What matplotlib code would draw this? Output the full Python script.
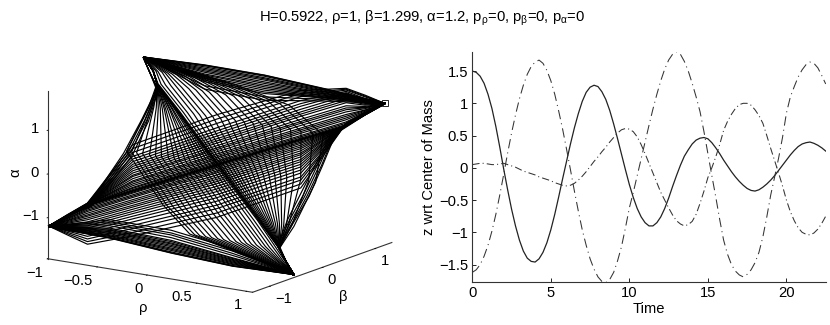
import numpy as np
import matplotlib
matplotlib.use('Agg')
import matplotlib.pyplot as plt

plt.rcParams['font.family'] = ['Liberation Sans', 'DejaVu Sans']
plt.rcParams['mathtext.fontset'] = 'custom'
plt.rcParams['mathtext.rm'] = 'Liberation Sans'
plt.rcParams['mathtext.it'] = 'Liberation Sans'
plt.rcParams['mathtext.default'] = 'regular'

# right panel: z of the three bodies, read every 0.25 time units
z_solid = [1.5, 1.48, 1.42, 1.31, 1.14, .92, .64, .32, -.02, -.34, -.64, -.9, -1.12, -1.29, -1.4, -1.45,
           -1.46, -1.41, -1.31, -1.16, -.96, -.72, -.45, -.17, .1, .37, .62, .84, 1.03, 1.17, 1.25, 1.28,
           1.26, 1.18, 1.06, .89, .68, .45, .21, -.03, -.26, -.46, -.63, -.76, -.85, -.9, -.9, -.85,
           -.76, -.63, -.47, -.29, -.12, .04, .18, .28, .37, .43, .46, .47, .45, .39, .31, .22,
           .12, .03, -.06, -.14, -.21, -.27, -.32, -.35, -.36, -.34, -.3, -.25, -.19, -.12, -.04, .04,
           .12, .2, .27, .33, .37, .39, .4, .38, .35, .31, .26]
z_big = [-1.62, -1.58, -1.5, -1.37, -1.2, -.98, -.72, -.42, -.1, .23, .54, .82, 1.07, 1.28, 1.45, 1.57,
         1.64, 1.67, 1.62, 1.51, 1.35, 1.14, .88, .6, .29, -.03, -.36, -.67, -.96, -1.2, -1.41, -1.57,
         -1.69, -1.76, -1.78, -1.73, -1.62, -1.44, -1.22, -.93, -.62, -.38, -.12, .14, .4, .66, .91, 1.14,
         1.35, 1.53, 1.67, 1.76, 1.8, 1.76, 1.65, 1.5, 1.31, 1.1, .87, .56, .22, -.12, -.45, -.8,
         -1.12, -1.34, -1.5, -1.6, -1.66, -1.69, -1.65, -1.58, -1.47, -1.31, -1.07, -.76, -.42, -.14, .15, .47,
         .85, 1.1, 1.26, 1.41, 1.52, 1.6, 1.64, 1.62, 1.55, 1.43, 1.3]
z_small = [.05, .06, .07, .07, .06, .05, .05, .06, .07, .05, .03, .01, -.02, -.05, -.07, -.09,
           -.11, -.14, -.16, -.18, -.2, -.23, -.25, -.27, -.28, -.27, -.24, -.19, -.13, -.06, .02, .1,
           .17, .25, .32, .4, .47, .54, .59, .61, .6, .56, .48, .36, .22, .07, -.08, -.23,
           -.38, -.5, -.62, -.73, -.82, -.87, -.9, -.88, -.83, -.72, -.55, -.36, -.15, 0, .17, .36,
           .58, .72, .83, .92, .98, 1.0, 1.0, .97, .9, .81, .69, .5, .3, .11, -.08, -.28,
           -.5, -.68, -.82, -.93, -1.0, -1.03, -1.04, -1.01, -.95, -.86, -.75]
time = np.arange(len(z_solid)) * 0.25

# left panel: strands of the trajectory, read as waypoints per family
# lower left corner to right corner, rho and beta shared, alpha per strand
c_rho = [-1, -.89, -.77, -.5, 0, .5, .77, .88, 1]
c_beta = [-1.3, -1.15, -1.0, -.65, 0, .65, 1.0, 1.15, 1.3]
c_alpha = [
    [-1.2, -1.0, -.77, -.49, .01, .5, .76, 1.0, 1.23],
    [-1.2, -1.0, -.77, -.48, .02, .51, .77, 1.0, 1.23],
    [-1.2, -1.0, -.78, -.50, 0, .49, .76, 1.0, 1.23],
    [-1.2, -1.0, -.77, -.46, .04, .53, .79, 1.01, 1.23],
    [-1.2, -1.0, -.77, -.43, .07, .56, .82, 1.03, 1.23],
    [-1.2, -1.0, -.77, -.41, .10, .59, .85, 1.04, 1.23],
    [-1.2, -1.0, -.77, -.37, .14, .64, .90, 1.05, 1.23],
    [-1.2, -1.0, -.76, -.33, .18, .68, .94, 1.07, 1.23],
    [-1.2, -1.0, -.76, -.29, .22, .72, .98, 1.09, 1.23],
    [-1.2, -1.0, -.76, -.26, .26, .76, 1.02, 1.1, 1.23],
    [-1.2, -1.0, -.76, -.21, .31, .82, 1.08, 1.13, 1.23],
    [-1.2, -.99, -.76, -.16, .36, .87, 1.13, 1.15, 1.23],
    [-1.2, -.99, -.75, -.13, .40, .91, 1.17, 1.16, 1.23],
    [-1.2, -.99, -.75, -.08, .45, .96, 1.22, 1.18, 1.23],
    [-1.2, -.99, -.75, -.03, .51, 1.03, 1.29, 1.21, 1.23],
    [-1.2, -.99, -.75, .02, .56, 1.08, 1.34, 1.23, 1.23],
    [-1.2, -.99, -.75, .07, .61, 1.13, 1.39, 1.25, 1.23],
    [-1.2, -.98, -.74, .12, .67, 1.19, 1.45, 1.28, 1.23],
    [-1.2, -.98, -.74, .18, .73, 1.26, 1.5, 1.3, 1.23],
    [-1.2, -.98, -.74, .24, .79, 1.32, 1.52, 1.33, 1.23],
    [-1.2, -.98, -.73, .30, .86, 1.39, 1.55, 1.36, 1.23],
    [-1.2, -.97, -.73, .39, .96, 1.48, 1.58, 1.4, 1.23],
    [-1.2, -.97, -.72, .48, 1.06, 1.55, 1.6, 1.42, 1.23],
    [-1.2, -.96, -.72, .57, 1.16, 1.62, 1.62, 1.44, 1.23],
    [-1.2, -1.01, -.79, -.52, -.02, .47, .76, 1.0, 1.23],
    [-1.2, -1.02, -.82, -.54, -.05, .44, .76, 1.0, 1.23],
    [-1.2, -1.04, -.85, -.58, -.09, .41, .76, 1.0, 1.23],
    [-1.2, -1.05, -.88, -.61, -.13, .37, .77, 1.0, 1.23],
    [-1.2, -1.07, -.91, -.64, -.17, .33, .77, 1.0, 1.23],
    [-1.2, -1.09, -.95, -.69, -.22, .29, .77, 1.0, 1.23],
    [-1.2, -1.1, -.99, -.73, -.27, .24, .78, 1.01, 1.23],
    [-1.2, -1.12, -1.02, -.77, -.32, .19, .78, 1.01, 1.23],
    [-1.2, -1.14, -1.06, -.82, -.37, .15, .78, 1.01, 1.23],
    [-1.2, -1.16, -1.10, -.86, -.42, .1, .79, 1.01, 1.23],
    [-1.2, -1.18, -1.15, -.91, -.48, .04, .79, 1.01, 1.23],
    [-1.2, -1.2, -1.19, -.96, -.54, -.01, .79, 1.01, 1.23],
    [-1.2, -1.23, -1.24, -1.01, -.6, -.07, .8, 1.02, 1.23],
    [-1.2, -1.25, -1.29, -1.07, -.67, -.13, .8, 1.02, 1.23],
    [-1.2, -1.28, -1.35, -1.13, -.74, -.2, .8, 1.02, 1.23],
    [-1.2, -1.31, -1.41, -1.2, -.82, -.27, .8, 1.02, 1.23],
    [-1.2, -1.34, -1.48, -1.28, -.91, -.36, .8, 1.02, 1.23],
    [-1.2, -1.37, -1.54, -1.35, -.99, -.43, .81, 1.02, 1.23],
    [-1.2, -1.4, -1.6, -1.44, -1.09, -.52, .81, 1.03, 1.23],
    [-1.2, -1.43, -1.66, -1.52, -1.19, -.61, .82, 1.03, 1.23],
]

# top left corner to bottom corner, beta and alpha shared, rho per strand
d_beta = [.51, .453, .395, .277, .045, -.188, -.305, -.363, -.42]
d_alpha = [1.88, 1.64, 1.40, .92, -.04, -.99, -1.48, -1.716, -1.95]
d_rho = [
    [-1, -.88, -.81, -.53, 0, .53, .79, .89, 1],
    [-1, -.88, -.80, -.52, .01, .54, .79, .89, 1],
    [-1, -.88, -.81, -.54, -.01, .52, .79, .89, 1],
    [-1, -.85, -.77, -.485, .03, .545, .79, .89, 1],
    [-1, -.83, -.725, -.44, .06, .556, .79, .89, 1],
    [-1, -.79, -.67, -.38, .1, .57, .79, .89, 1],
    [-1, -.76, -.615, -.32, .14, .584, .79, .89, 1],
    [-1, -.73, -.56, -.26, .18, .598, .79, .89, 1],
    [-1, -.69, -.49, -.185, .23, .615, .79, .89, 1],
    [-1, -.645, -.42, -.11, .28, .633, .79, .89, 1],
    [-1, -.60, -.355, -.035, .33, .65, .79, .89, 1],
    [-1, -.56, -.285, .04, .38, .668, .79, .89, 1],
    [-1, -.51, -.205, .13, .44, .689, .79, .89, 1],
    [-1, -.46, -.12, .22, .5, .71, .79, .89, 1],
    [-1, -.41, -.04, .31, .56, .73, .79, .89, 1],
    [-1, -.36, .04, .40, .62, .752, .79, .89, 1],
    [-1, -.31, .125, .49, .68, .773, .79, .89, 1],
    [-1, -.255, .22, .595, .75, .80, .79, .89, 1],
    [-1, -.195, .315, .70, .82, .82, .79, .89, 1],
    [-1, -.13, .425, .82, .9, .85, .79, .89, 1],
    [-1, -.07, .52, .925, .97, .875, .79, .89, 1],
    [-1, -.88, -.81, -.54, -.03, .51, .76, .88, 1],
    [-1, -.88, -.81, -.55, -.06, .47, .73, .86, 1],
    [-1, -.88, -.81, -.56, -.10, .43, .69, .84, 1],
    [-1, -.88, -.81, -.58, -.14, .38, .65, .82, 1],
    [-1, -.88, -.81, -.59, -.19, .335, .61, .80, 1],
    [-1, -.88, -.81, -.61, -.23, .29, .56, .78, 1],
    [-1, -.88, -.81, -.62, -.29, .23, .51, .75, 1],
    [-1, -.88, -.81, -.64, -.34, .175, .46, .73, 1],
    [-1, -.88, -.81, -.66, -.40, .12, .41, .70, 1],
    [-1, -.88, -.81, -.675, -.45, .06, .355, .675, 1],
    [-1, -.88, -.81, -.695, -.51, -.01, .295, .645, 1],
    [-1, -.88, -.81, -.715, -.58, -.07, .23, .615, 1],
    [-1, -.88, -.81, -.735, -.64, -.14, .17, .585, 1],
    [-1, -.88, -.81, -.755, -.70, -.21, .11, .555, 1],
    [-1, -.88, -.81, -.78, -.77, -.27, .05, .525, 1],
    [-1, -.88, -.81, -.80, -.83, -.34, -.01, .495, 1],
    [-1, -.88, -.81, -.81, -.88, -.40, -.06, .47, 1],
    [-1, -.88, -.81, -.83, -.93, -.44, -.11, .45, 1],
]

# top left corner to right corner along the upper edge
t_rho = [-1, -.5, 0, .5, 1]
t_beta = [.51, .71, .905, 1.1, 1.3]
t_alpha = [
    [1.885, 1.808, 1.677, 1.469, 1.231],
    [1.885, 1.80, 1.67, 1.46, 1.231],
    [1.885, 1.79, 1.65, 1.45, 1.231],
    [1.885, 1.762, 1.615, 1.431, 1.231],
    [1.885, 1.73, 1.59, 1.41, 1.231],
    [1.885, 1.70, 1.561, 1.392, 1.231],
    [1.885, 1.67, 1.52, 1.37, 1.231],
    [1.885, 1.639, 1.485, 1.354, 1.231],
    [1.885, 1.60, 1.445, 1.335, 1.231],
    [1.885, 1.577, 1.408, 1.315, 1.231],
    [1.885, 1.54, 1.37, 1.295, 1.231],
    [1.885, 1.50, 1.331, 1.277, 1.231],
    [1.885, 1.46, 1.29, 1.265, 1.231],
    [1.885, 1.423, 1.254, 1.254, 1.231],
    [1.885, 1.331, 1.177, 1.223, 1.231],
    [1.885, 1.254, 1.1, 1.185, 1.231],
]

# lower left corner to bottom corner along the lower edge
b_rho = [-1, -.5, 0, .5, 1]
b_beta = [-1.3, -1.08, -.86, -.64, -.42]
b_alpha = [
    [-1.216, -1.388, -1.638, -1.846, -1.946],
    [-1.216, -1.38, -1.63, -1.84, -1.946],
    [-1.216, -1.37, -1.61, -1.83, -1.946],
    [-1.216, -1.349, -1.577, -1.807, -1.946],
    [-1.216, -1.33, -1.55, -1.79, -1.946],
    [-1.216, -1.311, -1.523, -1.769, -1.946],
    [-1.216, -1.285, -1.49, -1.75, -1.946],
    [-1.216, -1.257, -1.461, -1.73, -1.946],
    [-1.216, -1.235, -1.43, -1.71, -1.946],
    [-1.216, -1.211, -1.407, -1.692, -1.946],
    [-1.216, -1.185, -1.375, -1.67, -1.946],
    [-1.216, -1.157, -1.346, -1.654, -1.946],
    [-1.216, -1.103, -1.284, -1.6, -1.946],
    [-1.216, -1.057, -1.223, -1.553, -1.946],
    [-1.216, -1.011, -1.177, -1.5, -1.946],
    [-1.216, -.965, -1.115, -1.446, -1.946],
]

# left edge, lower left corner up to top left corner
l_beta = [-1.29, -.945, -.57, -.226, .118, .461, .743, .618, .493]
l_alpha = [-1.228, -1.109, -1.057, -.614, -.148, .472, 1.042, 1.481, 1.882]
l_rho = [
    [-1, -1, -1, -1, -1, -1, -1, -1, -1],
    [-1, -1, -.99, -.99, -.98, -.99, -.99, -1, -1],
    [-1, -1, -.98, -.97, -.96, -.97, -.99, -1, -1],
    [-1, -1, -.97, -.95, -.94, -.95, -.98, -1, -1],
    [-1, -1, -.96, -.93, -.91, -.93, -.98, -1, -1],
]

# right edge, right corner down to bottom corner
r_beta = [1.305, .93, .368, .118, -.133, -.414, -.695, -.57, -.445]
r_alpha = [1.221, 1.13, .936, .313, -.27, -.724, -1.179, -1.58, -1.946]
r_rho = [
    [1, 1, 1, 1, 1, 1, 1, 1, 1],
    [1, 1, .99, .99, .98, .99, .99, 1, 1],
    [1, 1, .98, .97, .96, .97, .99, 1, 1],
    [1, 1, .97, .95, .94, .95, .98, 1, 1],
    [1, 1, .96, .93, .91, .93, .98, 1, 1],
]

start_rho, start_beta, start_alpha = 1, 1.299, 1.23

alpha_ticks = [-1, 0, 1]
alpha_tick_labels = ['−1', '0', '1']

fig = plt.figure(figsize=(8.3, 3.25), dpi=100)
fig.text(422 / 830, 1 - 18 / 325, r'H=0.5922, ρ=1, β=1.299, α=1.2, p$_{\rho}$=0, p$_{\beta}$=0, p$_{\alpha}$=0',
         ha='center', va='center', fontsize=10.6)

# left panel, the 3d axes keep a square box so it is made large enough not to clip
ax = fig.add_axes([(213 - 250) / 830, 1 - 423.5 / 325, 500 / 830, 500 / 325], projection='3d', proj_type='ortho')
ax.view_init(elev=14, azim=-55.9)
ax.set_box_aspect((249, 250, 174), zoom=0.759)
ax.patch.set_alpha(0)
strand = dict(color='black', lw=0.85)
for row in c_alpha:
    ax.plot(c_rho, c_beta, row, **strand)
for row in d_rho:
    ax.plot(row, d_beta, d_alpha, **strand)
for row in t_alpha:
    ax.plot(t_rho, t_beta, row, **strand)
for row in b_alpha:
    ax.plot(b_rho, b_beta, row, **strand)
for row in l_rho:
    ax.plot(row, l_beta, l_alpha, **strand)
for row in r_rho:
    ax.plot(row, r_beta, r_alpha, **strand)
ax.plot([start_rho], [start_beta], [start_alpha], 's', mfc='none', mec='black', ms=4, mew=0.6)

ax.set_xlim(-1, 1.06, view_margin=0)
ax.set_ylim(-1.32, 1.32, view_margin=0)
ax.set_zlim(-1.94, 1.9, view_margin=0)
ax.set_xticks([-1, -.5, 0, .5, 1])
ax.set_xticklabels(['−1', '−0.5', '0', '0.5', '1'], ha='right')
ax.set_yticks([-1, 0, 1])
ax.set_yticklabels(['−1', '0', '1'], ha='left')
ax.set_zticks(alpha_ticks)
# native z tick labels sit too low on this view, so they are placed at the axis corner
for tick_label in ax.set_zticklabels(alpha_tick_labels):
    tick_label.set_visible(False)
for value, label in zip(alpha_ticks, alpha_tick_labels):
    ax.text(-1.09, -1.32, value, label, fontsize=10.6, ha='right', va='center')
ax.zaxis.set_ticks_position('lower')
ax.grid(False)
for axis in (ax.xaxis, ax.yaxis, ax.zaxis):
    axis.pane.set_visible(False)
    axis.line.set_color('#333333')
    axis.line.set_linewidth(0.8)
    axis._axinfo['tick']['inward_factor'] = 0.05
    axis._axinfo['tick']['outward_factor'] = 0
    axis._axinfo['tick']['linewidth'] = {True: 0.6, False: 0.6}
ax.tick_params(axis='x', labelsize=10.6, pad=-2)
ax.tick_params(axis='y', labelsize=10.6, pad=-3)
fig.text(143 / 830, 1 - 308 / 325, 'ρ', fontsize=10.6, ha='center', va='center')
fig.text(343 / 830, 1 - 297 / 325, 'β', fontsize=10.6, ha='center', va='center')
fig.text(15 / 830, 1 - 173 / 325, 'α', fontsize=10.6, ha='center', va='center', rotation=90)

# right panel
ax2 = fig.add_axes([472.3 / 830, 1 - 282.3 / 325, 353.4 / 830, 230.6 / 325])
ax2.plot(time, z_solid, color='#222222', lw=0.9)
ax2.plot(time, z_big, color='#333333', lw=0.75, ls=(0, (9, 4, 1, 4)))
ax2.plot(time, z_small, color='#333333', lw=0.75, ls=(0, (7, 3, 1, 3)))
ax2.set_xlim(0, 22.5)
ax2.set_ylim(-1.774, 1.8)
ax2.set_xticks([0, 5, 10, 15, 20])
ax2.set_yticks([-1.5, -1, -.5, 0, .5, 1, 1.5])
ax2.set_yticklabels(['−1.5', '−1', '−0.5', '0', '0.5', '1', '1.5'])
ax2.tick_params(direction='in', length=3, width=0.6, labelsize=10.6, pad=3)
ax2.spines['top'].set_visible(False)
ax2.spines['right'].set_visible(False)
ax2.spines['left'].set_color('#333333')
ax2.spines['bottom'].set_color('#333333')
ax2.set_xlabel('Time', fontsize=10.6, labelpad=1)
ax2.set_ylabel('z wrt Center of Mass', fontsize=10.6, labelpad=2)

fig.savefig('out.png', dpi=100)
